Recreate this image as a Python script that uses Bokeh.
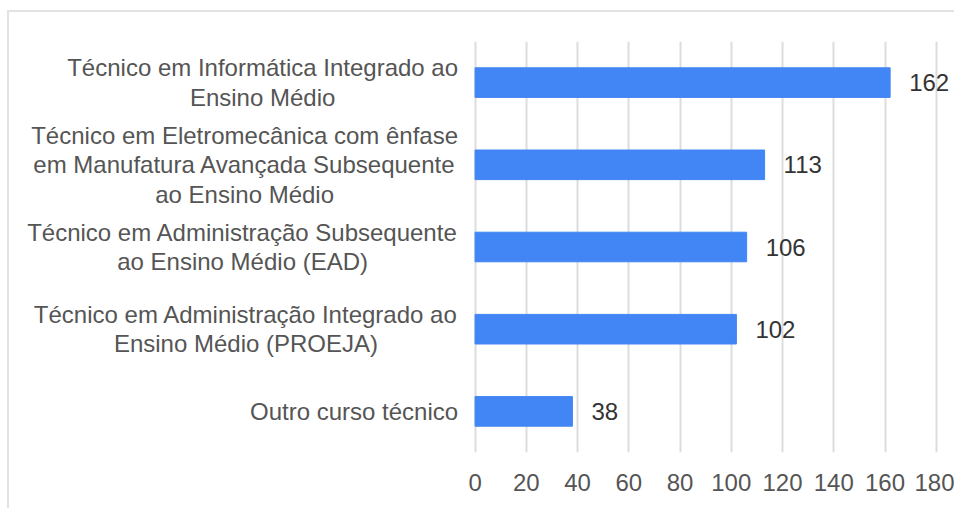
from bokeh.plotting import figure
from bokeh.models import Range1d, FactorRange, ColumnDataSource, LabelSet, Label, FixedTicker
from bokeh.core.properties import value
from bokeh.embed import file_html
from bokeh.resources import INLINE

categories = [
    "Técnico em Informática Integrado ao\nEnsino Médio",
    "Técnico em Eletromecânica com ênfase\nem Manufatura Avançada Subsequente\nao Ensino Médio",
    "Técnico em Administração Subsequente\nao Ensino Médio (EAD)",
    "Técnico em Administração Integrado ao\nEnsino Médio (PROEJA)",
    "Outro curso técnico",
]
values = [162, 113, 106, 102, 38]
x_ticks = [0, 20, 40, 60, 80, 100, 120, 140, 160, 180]

FONT = "Liberation Sans"
FSIZE = "24px"

src = ColumnDataSource(dict(cat=categories, val=values, txt=[str(v) for v in values]))

# the frame spans the whole figure width so that the category labels (drawn left of x=0)
# and the value labels are not clipped
p = figure(
    width=947, height=498,
    y_range=FactorRange(factors=list(reversed(categories))),
    x_range=Range1d(-181.7, 187.9),
    output_backend="svg", toolbar_location=None,
    min_border_left=0, min_border_right=0, min_border_top=29, min_border_bottom=58,
)
p.styles = {"margin-left": "7px", "margin-top": "10px",
            "border-top": "2px solid #e3e3e3", "border-left": "2px solid #e3e3e3"}
p.outline_line_color = None
p.background_fill_color = "white"
p.border_fill_color = "white"

p.hbar(y="cat", right="val", height=0.36, left=0, source=src, color="#4285F4")

p.xaxis.ticker = FixedTicker(ticks=x_ticks)
p.xaxis.axis_line_color = None
p.xaxis.major_tick_line_color = None
p.xaxis.minor_tick_line_color = None
p.xaxis.major_tick_out = 0
p.xaxis.major_label_standoff = 21
p.xaxis.major_label_text_font = FONT
p.xaxis.major_label_text_font_size = FSIZE
p.xaxis.major_label_text_color = "#555555"

p.yaxis.visible = False
p.ygrid.grid_line_color = None
p.xgrid.grid_line_color = "#dcdcdc"
p.xgrid.grid_line_width = 2

n = len(categories)
for i, c in enumerate(categories):
    # synthetic categorical coordinate of factor c (centre of its band)
    ypos = (n - 1 - i) + 0.5
    lab = Label(x=0, y=ypos, x_offset=-17, text=c, anchor="center_right", text_align="center",
                text_baseline="middle", text_font=FONT, text_font_size=FSIZE,
                text_color="#555555", text_line_height=1.09)
    p.add_layout(lab)

labels = LabelSet(x="val", y="cat", text="txt", source=src, x_offset=19, text_baseline="middle",
                  text_font=value(FONT), text_font_size=value(FSIZE), text_color="#333333")
p.add_layout(labels)

open("out.html", "w").write(file_html(p, INLINE))
